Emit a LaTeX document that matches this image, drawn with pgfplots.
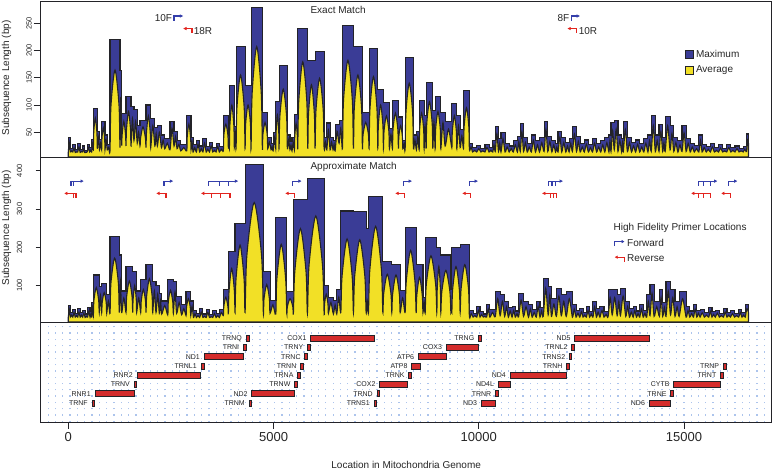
\documentclass[border=0pt]{standalone}
\usepackage{pgfplots}
\pgfplotsset{compat=1.18}
\usepackage{fontspec}
\setmainfont{Liberation Sans}
\usetikzlibrary{arrows.meta}

\definecolor{maxblue}{RGB}{58,60,150}
\definecolor{avgyellow}{RGB}{242,224,38}
\definecolor{genered}{RGB}{212,44,44}
\definecolor{arrowblue}{RGB}{52,62,170}
\definecolor{arrowred}{RGB}{226,36,30}
\definecolor{gridblue}{RGB}{172,196,236}
\definecolor{outline}{RGB}{35,35,40}
\newcommand{\tenpt}{\fontsize{10}{12}\selectfont}
\newcommand{\sevpt}{\fontsize{7}{8}\selectfont}

\pgfplotsset{
 mypanel/.style={scale only axis, width=731pt, xmin=-672, xmax=17135,
   axis line style={outline, line width=0.9pt},
   minor xtick={-490,-312,...,17100},
   xminorgrids=true, xmajorgrids=false, ymajorgrids=false,
   minor grid style={draw=gridblue, line width=1.3pt, dash pattern=on 1.3pt off 5pt},
   minor tick length=0pt,
   tick style={outline, line width=0.8pt},
   tick align=outside,
   scaled x ticks=false, scaled y ticks=false,
   /pgf/number format/assume math mode=true,
   /pgf/number format/1000 sep={},
 },
 maxplot/.style={const plot, fill=maxblue, draw=outline, line width=1.1pt, forget plot},
 avgplot/.style={smooth, tension=0.5, fill=avgyellow, draw=outline, line width=1.1pt, forget plot},
 fwd/.style={arrowblue, line width=1.2pt, forget plot, -{Latex[length=3.5pt,width=3.6pt]}},
 rev/.style={arrowred, line width=1.2pt, forget plot, -{Latex[length=3.5pt,width=3.6pt]}},
 fwdtick/.style={arrowblue, line width=1.2pt, forget plot},
 revtick/.style={arrowred, line width=1.2pt, forget plot},
 genebar/.style={fill=genered, draw=outline, line width=0.7pt, forget plot},
}
\tikzset{genelab/.style={anchor=east, inner sep=0pt, xshift=-4pt, font=\sevpt, text=black!85},
         txt/.style={inner sep=0.5pt, font=\tenpt, text=black!85}}
% start, end, low, high, row, label
\newcommand{\gene}[6]{\addplot[genebar] coordinates {(#1,#3) (#2,#3) (#2,#4) (#1,#4)} -- cycle;
  \node[genelab] at (axis cs:#1,#5) {#6};}

\begin{document}
\begin{tikzpicture}
\path[use as bounding box] (0pt,0pt) rectangle (778pt,470pt);

% ---------------- TOP: Exact Match ----------------
\begin{axis}[mypanel, at={(40.7pt,313pt)}, anchor=south west, height=156pt,
  ymin=4.8, ymax=290.5, xtick=\empty, ytick={50,100,150,200,250}, ytick pos=left,
  major tick length=7pt,
  yticklabel style={rotate=90, anchor=south, font=\fontsize{7.5}{9}\selectfont, text=black!85, yshift=-1.5pt},
  ylabel={Subsequence Length (bp)},
  ylabel style={font=\tenpt, text=black!85, at={(axis description cs:-0.0468,0.506)}, anchor=center},
  legend style={at={(axis description cs:0.8814,0.70)}, anchor=north west, draw=none, fill=none,
    font=\tenpt, row sep=3pt, inner sep=0pt, text=black!85},
  legend cell align=left]
\addplot[maxplot] coordinates {
(0,40) (50,20) (110,27) (170,18) (230,30) (290,19) (350,25) (400,17) (460,28) (520,22) (570,37)
(610,94) (707,51) (760,37) (813,70) (894,45) (950,28)
(1016,220) (1260,164) (1300,85) (1406,115) (1528,98) (1600,92) (1680,62) (1747,72) (1893,100)
(2008,76) (2110,58) (2170,62) (2270,45) (2350,38) (2478,70) (2576,52) (2650,35) (2740,28)
(2885,81) (2990,40) (3040,28) (3120,35) (3200,25) (3280,38) (3360,24) (3440,32) (3520,22) (3600,30) (3680,24)
(3777,81) (3900,45) (3924,135) (4045,60) (4087,207) (4306,136) (4452,279) (4728,87) (4859,40)
(4940,30) (4990,50) (5054,106) (5135,172) (5337,45) (5400,34) (5450,40) (5508,82) (5590,240)
(5834,182) (6012,198) (6232,40) (6297,67) (6378,40) (6450,35) (6500,65) (6597,72) (6678,245)
(6946,207) (7165,86) (7328,204) (7540,129) (7677,104) (7823,57) (7896,109) (8042,78) (8149,35)
(8205,187) (8408,45) (8480,52) (8547,109) (8668,80) (8717,141) (8880,90) (8936,115) (9075,86)
(9180,70) (9343,103) (9465,80) (9546,55) (9627,126)
(9772,30) (9850,22) (9950,26) (10050,20) (10150,28) (10250,22) (10340,35) (10400,60) (10480,38)
(10540,49) (10640,30) (10740,25) (10840,35) (10940,42) (11010,66) (11090,40) (11180,30) (11280,45)
(11380,35) (11480,40) (11590,70) (11680,42) (11780,35) (11870,30) (11930,52) (12020,40) (12120,32)
(12200,38) (12280,60) (12380,42) (12470,30) (12570,36) (12670,28) (12770,38) (12870,30) (12970,35)
(13070,40) (13170,45) (13220,68) (13300,72) (13390,45) (13480,38) (13520,70) (13620,40) (13720,32)
(13820,36) (13920,30) (14020,38) (14120,45) (14200,80) (14300,45) (14390,65) (14480,40) (14540,79)
(14660,62) (14750,40) (14850,35) (14950,63) (15050,38) (15150,30) (15250,26) (15360,45) (15440,28)
(15540,24) (15640,30) (15740,22) (15840,27) (15940,21) (16040,28) (16140,22) (16240,25) (16340,20)
(16440,24) (16520,47) (16569,47)
} \closedcycle;
\addplot[avgplot] coordinates {
(0,14) (25,31) (50,14) (80,16) (110,14) (140,21) (170,13) (200,14) (230,14) (260,23) (290,13)
(320,15) (350,14) (375,19) (400,13) (430,13) (460,14) (490,22) (520,14) (545,17) (570,14) (590,28) (610,18)
(620,50) (658,76) (697,50) (707,20) (733,40) (760,18) (786,30) (813,18)
(821,40) (853,58) (886,40) (894,18) (922,36) (950,18) (983,22) (1016,16)
(1040,99) (1138,164) (1236,99) (1260,22) (1280,115) (1300,28)
(1311,45) (1353,70) (1395,45) (1406,25) (1418,55) (1467,88) (1516,55) (1528,25)
(1564,75) (1600,35) (1640,70) (1680,30) (1713,50) (1747,25)
(1762,40) (1820,60) (1878,40) (1893,22) (1905,50) (1950,80) (1996,50) (2008,22)
(2059,62) (2110,25) (2140,48) (2170,25) (2220,50) (2270,22) (2310,36) (2350,20)
(2414,30) (2478,18) (2527,57) (2576,25) (2613,42) (2650,20) (2695,28) (2740,16) (2812,22) (2885,16)
(2895,40) (2937,65) (2980,40) (2990,18) (3015,32) (3040,14)
(3080,22) (3120,14) (3160,28) (3200,14) (3240,20) (3280,14) (3320,30) (3360,14) (3400,19) (3440,14)
(3480,25) (3520,14) (3560,17) (3600,14) (3640,24) (3680,14) (3728,19) (3777,16)
(3789,45) (3838,65) (3888,45) (3900,20) (3912,35) (3924,20)
(3936,62) (3984,100) (4033,62) (4045,22) (4066,48) (4087,20)
(4109,96) (4196,155) (4284,96) (4306,20) (4321,66) (4379,100) (4437,66) (4452,20)
(4480,123) (4590,207) (4700,123) (4728,20) (4741,46) (4793,68) (4846,46) (4859,20)
(4900,32) (4940,18) (4965,24) (4990,16) (5022,40) (5054,20)
(5062,50) (5094,82) (5127,50) (5135,20) (5155,80) (5236,129) (5317,80) (5337,20)
(5368,36) (5400,18) (5425,27) (5450,16) (5479,32) (5508,18)
(5516,42) (5549,66) (5582,42) (5590,20) (5614,107) (5712,179) (5810,107) (5834,20)
(5852,84) (5923,137) (5994,84) (6012,20) (6034,91) (6122,149) (6210,91) (6232,20)
(6264,32) (6297,18) (6337,54) (6378,18) (6414,32) (6450,18) (6475,28) (6500,16)
(6548,52) (6597,30) (6637,58) (6678,20)
(6705,109) (6812,182) (6919,109) (6946,20) (6968,96) (7055,155) (7143,96) (7165,20)
(7181,46) (7246,68) (7312,46) (7328,20) (7349,93) (7434,152) (7519,93) (7540,20)
(7554,64) (7608,100) (7663,64) (7677,20) (7692,53) (7750,80) (7808,53) (7823,20)
(7860,46) (7896,20) (7911,56) (7969,85) (8027,56) (8042,20) (8053,43) (8095,62) (8138,43) (8149,20)
(8177,28) (8205,18) (8225,86) (8306,140) (8388,86) (8408,20) (8444,36) (8480,18) (8513,42) (8547,18)
(8559,56) (8607,85) (8656,56) (8668,20) (8692,62) (8717,20)
(8733,67) (8798,106) (8864,67) (8880,20) (8908,70) (8936,20)
(8950,57) (9005,88) (9061,57) (9075,20) (9127,68) (9180,25) (9262,56) (9343,22)
(9355,52) (9404,80) (9453,52) (9465,20) (9505,62) (9546,22) (9586,44) (9627,20)
(9642,60) (9700,95) (9757,60) (9772,18)
(9811,23) (9850,14) (9900,17) (9950,14) (10000,20) (10050,14) (10100,16) (10150,14) (10200,22)
(10250,14) (10295,17) (10340,14) (10370,27) (10400,15) (10440,47) (10480,15) (10510,30) (10540,14)
(10590,38) (10640,14) (10690,23) (10740,14) (10790,20) (10840,14) (10890,27) (10940,14) (10975,33)
(11010,15) (11050,51) (11090,15) (11135,31) (11180,14) (11230,23) (11280,14) (11330,35) (11380,14)
(11430,27) (11480,14) (11535,31) (11590,15) (11635,55) (11680,15) (11730,33) (11780,14) (11825,27)
(11870,14) (11900,23) (11930,14) (11975,41) (12020,14) (12070,31) (12120,14) (12160,25) (12200,14)
(12240,30) (12280,15) (12330,47) (12380,15) (12425,33) (12470,14) (12520,23) (12570,14) (12620,28)
(12670,14) (12720,22) (12770,14) (12820,30) (12870,14) (12920,23) (12970,14) (13020,27) (13070,14)
(13120,31) (13170,14) (13195,35) (13220,15) (13260,53) (13300,18) (13345,56) (13390,15) (13435,35)
(13480,14) (13500,30) (13520,15) (13570,55) (13620,15) (13670,31) (13720,14) (13770,25) (13820,14)
(13870,28) (13920,14) (13970,23) (14020,14) (14070,30) (14120,14) (14160,35) (14200,15) (14250,62)
(14300,15) (14345,35) (14390,15) (14435,51) (14480,15) (14510,31) (14540,15) (14600,62) (14660,18)
(14705,48) (14750,15) (14800,31) (14850,14) (14900,27) (14950,15) (15000,49) (15050,15) (15100,30)
(15150,14) (15200,23) (15250,14) (15305,20) (15360,14) (15400,35) (15440,14) (15490,22) (15540,14)
(15590,19) (15640,14) (15690,23) (15740,14) (15790,17) (15840,14) (15890,21) (15940,14) (15990,16)
(16040,14) (16090,22) (16140,14) (16190,17) (16240,14) (16290,20) (16340,14) (16390,16) (16440,14)
(16480,19) (16520,15) (16545,37) (16569,30)
} \closedcycle;
% primers
\addplot[fwd] coordinates {(2576,254) (2576,263) (2803,263)};
\addplot[rev] coordinates {(3015,232) (3015,240) (2795,240)};
\addplot[fwd] coordinates {(12251,254) (12251,263) (12470,263)};
\addplot[rev] coordinates {(12373,232) (12373,240) (12153,240)};
\node[txt, anchor=east] at (axis cs:2545,259) {10F};
\node[txt, anchor=west] at (axis cs:3040,236) {18R};
\node[txt, anchor=east] at (axis cs:12220,259) {8F};
\node[txt, anchor=west] at (axis cs:12420,236) {10R};
\node[txt, anchor=west] at (axis cs:5885,274) {Exact Match};
\addlegendimage{legend image code/.code={\draw[fill=maxblue, draw=outline, line width=0.8pt] (0pt,-4pt) rectangle (8pt,4pt);}}
\addlegendentry{Maximum}
\addlegendimage{legend image code/.code={\draw[fill=avgyellow, draw=outline, line width=0.8pt] (0pt,-4pt) rectangle (8pt,4pt);}}
\addlegendentry{Average}
\end{axis}

% ---------------- MIDDLE: Approximate Match ----------------
\begin{axis}[mypanel, at={(40.7pt,148pt)}, anchor=south west, height=165pt,
  ymin=5.2, ymax=436, xtick=\empty, ytick={100,200,300,400}, ytick pos=left,
  major tick length=5pt,
  yticklabel style={rotate=90, anchor=south, font=\fontsize{7.5}{9}\selectfont, text=black!85, yshift=10pt},
  ylabel={Subsequence Length (bp)},
  ylabel style={font=\tenpt, text=black!85, at={(axis description cs:-0.0468,0.57)}, anchor=center},
  legend style={at={(axis description cs:0.784,0.515)}, anchor=north west, draw=none, fill=none,
    font=\tenpt, row sep=3pt, inner sep=0pt, text=black!85},
  legend cell align=left]
\addplot[maxplot] coordinates {
(0,49) (50,30) (110,38) (170,28) (230,40) (290,30) (350,36) (410,26) (470,42) (530,33) (570,55)
(610,128) (755,97) (814,106) (936,76) (1016,228) (1243,180) (1300,86) (1406,151) (1569,137) (1666,86)
(1764,117) (1894,156) (2057,112) (2137,100) (2218,80) (2276,60) (2422,115) (2559,110) (2640,72)
(2760,50) (2868,85) (2983,60) (3050,35) (3120,28) (3200,40) (3280,26) (3360,38) (3440,25) (3520,35)
(3600,28) (3680,38) (3777,90) (3900,190) (4062,263) (4306,417) (4752,137) (4915,62) (5054,279)
(5322,84) (5484,324) (5825,380) (6232,101) (6336,70) (6458,62) (6540,90) (6638,295) (6946,293)
(7255,250) (7312,334) (7662,163) (7881,155) (8085,88) (8205,252) (8473,155) (8640,70) (8693,225)
(8977,200) (9075,180) (9320,90) (9343,199) (9546,208)
(9772,35) (9860,28) (9950,45) (10030,32) (10110,26) (10190,50) (10270,38) (10400,84) (10520,76)
(10630,58) (10720,44) (10810,45) (10890,34) (10970,80) (11090,58) (11210,50) (11300,38) (11400,58)
(11490,44) (11570,119) (11690,97) (11770,67) (11890,93) (12010,76) (12130,84) (12280,50) (12370,36)
(12460,41) (12540,30) (12620,45) (12700,33) (12780,58) (12865,40) (12950,45) (13050,32) (13150,89)
(13250,89) (13370,76) (13450,93) (13580,58) (13670,40) (13760,45) (13840,34) (13920,50) (14005,36)
(14090,76) (14170,102) (14270,58) (14400,89) (14480,55) (14560,110) (14670,89) (14780,58) (14880,84)
(15050,45) (15140,34) (15230,50) (15310,36) (15390,37) (15495,30) (15600,42) (15680,32) (15760,36)
(15860,28) (15960,40) (16045,30) (16130,35) (16230,28) (16330,38) (16410,29) (16490,51) (16569,51)
} \closedcycle;
\addplot[avgplot] coordinates {
(0,18) (25,38) (50,18) (80,23) (110,18) (140,30) (170,18) (200,22) (230,18) (260,31) (290,18)
(320,23) (350,18) (380,28) (410,17) (440,20) (470,18) (500,33) (530,18) (550,26) (570,18) (590,43) (610,22)
(625,62) (682,95) (740,62) (755,30) (784,75) (814,30)
(826,56) (875,82) (924,56) (936,28) (976,60) (1016,28)
(1039,107) (1130,172) (1220,107) (1243,30) (1271,110) (1300,30) (1353,68) (1406,30)
(1422,72) (1488,112) (1553,72) (1569,30) (1579,64) (1618,100) (1656,64) (1666,30)
(1715,68) (1764,30) (1777,60) (1829,90) (1881,60) (1894,30)
(1910,74) (1976,118) (2041,74) (2057,30) (2097,86) (2137,30) (2178,78) (2218,28)
(2247,62) (2276,26) (2349,48) (2422,24) (2436,58) (2490,88) (2545,58) (2559,28)
(2600,84) (2640,28) (2700,56) (2760,24) (2814,40) (2868,22)
(2880,44) (2925,66) (2971,44) (2983,22) (3016,46) (3050,17)
(3085,27) (3120,17) (3160,22) (3200,17) (3240,31) (3280,17) (3320,20) (3360,17) (3400,30) (3440,17)
(3480,19) (3520,17) (3560,27) (3600,17) (3640,22) (3680,17) (3728,30) (3777,22)
(3789,46) (3838,70) (3888,46) (3900,28) (3916,86) (3981,145) (4046,86) (4062,30)
(4086,118) (4184,206) (4282,118) (4306,30) (4351,180) (4529,317) (4707,180) (4752,28)
(4768,66) (4834,103) (4899,66) (4915,28) (4985,50) (5054,26)
(5081,118) (5188,208) (5295,118) (5322,28) (5338,46) (5403,66) (5468,46) (5484,28)
(5518,137) (5655,249) (5791,137) (5825,28) (5866,155) (6029,282) (6191,155) (6232,28)
(6242,52) (6284,78) (6326,52) (6336,28) (6397,56) (6458,26) (6499,50) (6540,26) (6589,70) (6638,30)
(6669,125) (6792,222) (6915,125) (6946,30) (6977,125) (7100,220) (7224,125) (7255,30)
(7283,60) (7312,30) (7347,143) (7487,255) (7627,143) (7662,30)
(7684,80) (7771,130) (7859,80) (7881,30) (7901,78) (7983,128) (8065,78) (8085,30) (8145,68) (8205,30)
(8232,110) (8339,192) (8446,110) (8473,30) (8490,75) (8556,122) (8623,75) (8640,30) (8666,55) (8693,28)
(8721,103) (8835,178) (8949,103) (8977,30) (8987,90) (9026,150) (9065,90) (9075,30)
(9100,85) (9197,140) (9295,85) (9320,30) (9331,50) (9343,30)
(9363,90) (9444,150) (9526,90) (9546,30) (9569,92) (9659,155) (9749,92) (9772,18)
(9816,27) (9860,18) (9905,22) (9950,18) (9990,35) (10030,18) (10070,25) (10110,18) (10150,20)
(10190,18) (10230,39) (10270,18) (10335,30) (10400,19) (10460,66) (10520,22) (10575,59) (10630,20)
(10675,45) (10720,18) (10765,34) (10810,18) (10850,35) (10890,18) (10930,27) (10970,19) (11030,62)
(11090,20) (11150,45) (11210,18) (11255,39) (11300,18) (11350,30) (11400,18) (11445,45) (11490,18)
(11530,34) (11570,20) (11630,93) (11690,24) (11730,76) (11770,20) (11830,52) (11890,20) (11950,73)
(12010,22) (12070,59) (12130,20) (12205,66) (12280,18) (12325,39) (12370,18) (12415,28) (12460,18)
(12500,32) (12540,18) (12580,23) (12620,18) (12660,35) (12700,18) (12740,26) (12780,18) (12822,45)
(12865,18) (12907,31) (12950,18) (13000,35) (13050,18) (13100,25) (13150,19) (13200,69) (13250,24)
(13310,69) (13370,22) (13410,59) (13450,22) (13515,73) (13580,20) (13625,45) (13670,18) (13715,31)
(13760,18) (13800,35) (13840,18) (13880,27) (13920,18) (13962,39) (14005,18) (14047,28) (14090,18)
(14130,59) (14170,22) (14220,80) (14270,20) (14335,45) (14400,20) (14440,69) (14480,20) (14520,43)
(14560,20) (14615,86) (14670,24) (14725,69) (14780,20) (14830,45) (14880,20) (14965,66) (15050,18)
(15095,35) (15140,18) (15185,27) (15230,18) (15270,39) (15310,18) (15350,28) (15390,18) (15442,29)
(15495,18) (15547,23) (15600,18) (15640,33) (15680,18) (15720,25) (15760,18) (15810,28) (15860,18)
(15910,22) (15960,18) (16002,31) (16045,18) (16087,23) (16130,18) (16180,27) (16230,18) (16280,22)
(16330,18) (16370,30) (16410,18) (16450,23) (16490,18) (16530,40) (16569,30)
} \closedcycle;
% forward primers
\addplot[fwd] coordinates {(66,361) (66,373) (383,373)};
\addplot[fwdtick] coordinates {(122,361) (122,373)};
\addplot[fwd] coordinates {(2332,361) (2332,373) (2559,373)};
\addplot[fwd] coordinates {(3412,361) (3412,373) (4143,373)};
\addplot[fwdtick] coordinates {(3680,361) (3680,373)};
\addplot[fwdtick] coordinates {(3899,361) (3899,373)};
\addplot[fwd] coordinates {(5459,361) (5459,373) (5688,373)};
\addplot[fwd] coordinates {(8157,361) (8157,373) (8376,373)};
\addplot[fwd] coordinates {(9772,361) (9772,373) (9984,373)};
\addplot[fwd] coordinates {(11698,361) (11698,373) (12056,373)};
\addplot[fwdtick] coordinates {(11781,361) (11781,373)};
\addplot[fwdtick] coordinates {(11861,361) (11861,373)};
\addplot[fwd] coordinates {(15353,361) (15353,373) (15816,373)};
\addplot[fwdtick] coordinates {(15475,361) (15475,373)};
\addplot[fwdtick] coordinates {(15638,361) (15638,373)};
\addplot[fwd] coordinates {(16084,361) (16084,373) (16303,373)};
% reverse primers
\addplot[rev] coordinates {(188,330) (188,341) (-105,341)};
\addplot[revtick] coordinates {(122,330) (122,341)};
\addplot[rev] coordinates {(2381,330) (2381,341) (2137,341)};
\addplot[rev] coordinates {(3941,330) (3941,341) (3227,341)};
\addplot[revtick] coordinates {(3495,330) (3495,341)};
\addplot[revtick] coordinates {(3714,330) (3714,341)};
\addplot[rev] coordinates {(5508,330) (5508,341) (5281,341)};
\addplot[rev] coordinates {(8198,330) (8198,341) (7962,341)};
\addplot[rev] coordinates {(9806,330) (9806,341) (9594,341)};
\addplot[rev] coordinates {(11902,330) (11902,341) (11537,341)};
\addplot[revtick] coordinates {(11739,330) (11739,341)};
\addplot[revtick] coordinates {(11820,330) (11820,341)};
\addplot[rev] coordinates {(15638,330) (15638,341) (15168,341)};
\addplot[revtick] coordinates {(15353,330) (15353,341)};
\addplot[revtick] coordinates {(15475,330) (15475,341)};
\addplot[rev] coordinates {(16126,330) (16126,341) (15899,341)};
\node[txt, anchor=west] at (axis cs:5885,410) {Approximate Match};
\node[txt, anchor=west] at (axis cs:13270,250) {High Fidelity Primer Locations};
\addlegendimage{legend image code/.code={\draw[arrowblue, line width=1.2pt, -{Latex[length=3pt,width=3.6pt]}] (0pt,-2.5pt) -- (0pt,2pt) -- (10pt,2pt);}}
\addlegendentry{Forward}
\addlegendimage{legend image code/.code={\draw[arrowred, line width=1.2pt, -{Latex[length=3pt,width=3.6pt]}] (10pt,-2.5pt) -- (10pt,2pt) -- (0pt,2pt);}}
\addlegendentry{Reverse}
\end{axis}

% ---------------- BOTTOM: gene map ----------------
\begin{axis}[mypanel, at={(40.7pt,48pt)}, anchor=south west, height=100pt,
  ymin=-1.05, ymax=9.76, ytick=\empty,
  xtick={0,5000,10000,15000}, xticklabels={0,5000,10000,15000},
  xtick pos=left, major tick length=7pt,
  xticklabel style={font=\fontsize{13}{15}\selectfont, text=black!85},
  xlabel={Location in Mitochondria Genome},
  xlabel style={font=\tenpt, text=black!85, at={(axis description cs:0.5,-0.43)}, anchor=center}]
\gene{577}{647}{0.67}{1.33}{1}{TRNF}
\gene{648}{1601}{1.67}{2.33}{2}{RNR1}
\gene{1602}{1670}{2.67}{3.33}{3}{TRNV}
\gene{1671}{3229}{3.67}{4.33}{4}{RNR2}
\gene{3230}{3304}{4.67}{5.33}{5}{TRNL1}
\gene{3307}{4262}{5.67}{6.33}{6}{ND1}
\gene{4263}{4331}{6.67}{7.33}{7}{TRNI}
\gene{4329}{4400}{7.67}{8.33}{8}{TRNQ}
\gene{4402}{4469}{0.67}{1.33}{1}{TRNM}
\gene{4470}{5511}{1.67}{2.33}{2}{ND2}
\gene{5512}{5579}{2.67}{3.33}{3}{TRNW}
\gene{5587}{5655}{3.67}{4.33}{4}{TRNA}
\gene{5657}{5729}{4.67}{5.33}{5}{TRNN}
\gene{5761}{5826}{5.67}{6.33}{6}{TRNC}
\gene{5826}{5891}{6.67}{7.33}{7}{TRNY}
\gene{5904}{7445}{7.67}{8.33}{8}{COX1}
\gene{7446}{7514}{0.67}{1.33}{1}{TRNS1}
\gene{7518}{7585}{1.67}{2.33}{2}{TRND}
\gene{7586}{8269}{2.67}{3.33}{3}{COX2}
\gene{8295}{8364}{3.67}{4.33}{4}{TRNK}
\gene{8366}{8572}{4.67}{5.33}{5}{ATP8}
\gene{8527}{9207}{5.67}{6.33}{6}{ATP6}
\gene{9207}{9990}{6.67}{7.33}{7}{COX3}
\gene{9991}{10058}{7.67}{8.33}{8}{TRNG}
\gene{10059}{10404}{0.67}{1.33}{1}{ND3}
\gene{10405}{10469}{1.67}{2.33}{2}{TRNR}
\gene{10470}{10766}{2.67}{3.33}{3}{ND4L}
\gene{10760}{12137}{3.67}{4.33}{4}{ND4}
\gene{12138}{12206}{4.67}{5.33}{5}{TRNH}
\gene{12207}{12265}{5.67}{6.33}{6}{TRNS2}
\gene{12266}{12336}{6.67}{7.33}{7}{TRNL2}
\gene{12337}{14148}{7.67}{8.33}{8}{ND5}
\gene{14149}{14673}{0.67}{1.33}{1}{ND6}
\gene{14674}{14742}{1.67}{2.33}{2}{TRNE}
\gene{14747}{15887}{2.67}{3.33}{3}{CYTB}
\gene{15888}{15953}{3.67}{4.33}{4}{TRNT}
\gene{15956}{16023}{4.67}{5.33}{5}{TRNP}
\end{axis}
\end{tikzpicture}
\end{document}
